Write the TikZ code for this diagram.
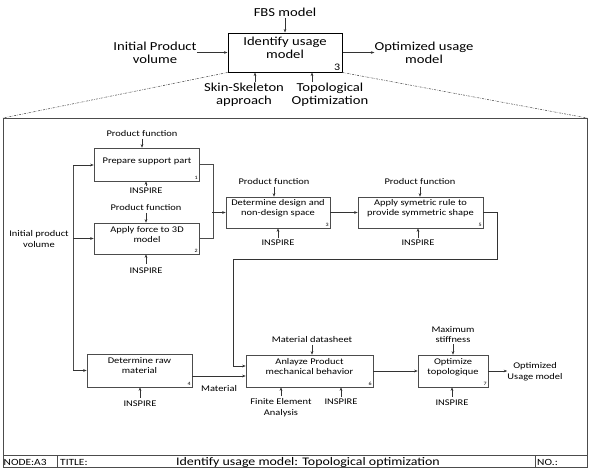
\documentclass[tikz,border=0pt]{standalone}
\usepackage{fontspec}
\setmainfont{Carlito}[FakeStretch=1.2]
\usetikzlibrary{calc,arrows.meta}
\begin{document}
\begin{tikzpicture}[x=1pt,y=-1pt,
  box/.style={draw=black!70, line width=0.6pt, inner sep=0pt},
  btxt/.style={font=\fontsize{8.7}{10}\selectfont, align=center, inner sep=0pt},
  lbl/.style={font=\fontsize{8.7}{10.5}\selectfont, align=center, inner sep=0pt},
  tlbl/.style={font=\fontsize{12.2}{12.8}\selectfont, align=center, inner sep=0pt},
  num/.style={font=\fontsize{5}{6}\selectfont, anchor=south east, inner sep=1.5pt},
  arr/.style={draw=black!80, line width=0.5pt, -{Stealth[length=3.5pt,width=2.6pt]}},
  ln/.style={draw=black!70, line width=0.6pt},
  dotln/.style={draw=black!70, line width=0.55pt, dash pattern=on 2pt off 1.2pt on 0.5pt off 1.2pt}]
\useasboundingbox (0,0) rectangle (591,467);

% ---------- top level ----------
\node[draw=black, line width=1pt, minimum width=114pt, minimum height=39pt, inner sep=0pt] (top) at (285,52.5) {};
\node[tlbl] (toptxt) at (285,48) {Identify usage\\model};
\node[font=\fontsize{10}{11}\selectfont, anchor=south east, inner sep=2pt] (topnum) at (top.south east) {3};
\node[tlbl] (fbs) at (285,12) {FBS model};
\draw[arr, shorten <=2pt] (fbs.south) -- (fbs.south |- top.north);
\node[tlbl] (ipv) at (155,53) {Initial Product\\volume};
\draw[arr] (ipv.east |- top.west) -- (top.west);
\node[tlbl] (ouv) at (424,53) {Optimized usage\\model};
\draw[arr] (top.east) -- (ouv.west |- top.east);
\node[tlbl] (ss) at (244,94.5) {Skin-Skeleton\\approach};
\coordinate (ssA) at (255,82);
\draw[arr] (ssA) -- (ssA |- top.south);
\node[tlbl] (topo) at (330,94.5) {Topological\\Optimization};
\coordinate (toA) at (312,82);
\draw[arr] (toA) -- (toA |- top.south);

% ---------- frame ----------
\coordinate (frTL) at (3,118);
\coordinate (frTR) at (587,118);
\coordinate (frBR) at (587,467);
\draw[dotln] (top.south west) -- (frTL);
\draw[dotln] (top.south east) -- (frTR);
\draw[draw=black!70, line width=0.7pt] (frTL) rectangle (frBR);

% ---------- inner boxes ----------
\node[box, minimum width=105pt, minimum height=33pt] (b1) at (146.5,164.5) {};
\node[btxt] (t1) at (147,161) {Prepare support part};
\node[num] (n1) at (b1.south east) {1};

\node[box, minimum width=105pt, minimum height=31pt] (b2) at (146.5,238.5) {};
\node[btxt] (t2) at (147,235) {Apply force to 3D\\model};
\node[num] (n2) at (b2.south east) {2};

\node[box, minimum width=104pt, minimum height=31pt] (b3) at (278,212.5) {};
\node[btxt] (t3) at (278,208) {Determine design and\\non-design space};
\node[num] (n3) at (b3.south east) {3};

\node[box, minimum width=125pt, minimum height=31pt] (b5) at (420.5,212.5) {};
\node[btxt] (t5) at (420.5,208) {Apply symetric rule to\\provide symmetric shape};
\node[num] (n5) at (b5.south east) {5};

\node[box, minimum width=105pt, minimum height=33pt] (b4) at (139.5,370.5) {};
\node[btxt] (t4) at (139.5,366) {Determine raw\\material};
\node[num] (n4) at (b4.south east) {4};

\node[box, minimum width=127pt, minimum height=32pt] (b6) at (309.5,371) {};
\node[btxt] (t6) at (309.5,367) {Anlayze Product\\mechanical behavior};
\node[num] (n6) at (b6.south east) {6};

\node[box, minimum width=70pt, minimum height=32pt] (b7) at (453,371) {};
\node[btxt] (t7) at (453,367) {Optimize\\topologique};
\node[num] (n7) at (b7.south east) {7};

% ---------- controls and mechanisms ----------
\node[lbl] (pf1) at (142,134) {Product function};
\draw[arr, shorten <=1.5pt] (pf1.south) -- (pf1.south |- b1.north);
\node[lbl] (in1) at (146,191) {INSPIRE};
\draw[arr, shorten <=1.5pt] (in1.north) -- (in1.north |- b1.south);

\node[lbl] (pf2) at (146,208) {Product function};
\draw[arr, shorten <=1.5pt] (pf2.south) -- (pf2.south |- b2.north);
\node[lbl] (in2) at (146,271) {INSPIRE};
\draw[arr, shorten <=4pt] (in2.north) -- (in2.north |- b2.south);

\node[lbl] (pf3) at (274,182) {Product function};
\draw[arr, shorten <=1.5pt] (pf3.south) -- (pf3.south |- b3.north);
\node[lbl] (in3) at (278,243) {INSPIRE};
\draw[arr, shorten <=1.5pt] (in3.north) -- (in3.north |- b3.south);

\node[lbl] (pf5) at (420,182) {Product function};
\draw[arr, shorten <=1.5pt] (pf5.south) -- (pf5.south |- b5.north);
\node[lbl] (in5) at (418,243) {INSPIRE};
\draw[arr, shorten <=1.5pt] (in5.north) -- (in5.north |- b5.south);

\node[lbl] (in4) at (140,404) {INSPIRE};
\draw[arr, shorten <=3pt] (in4.north) -- (in4.north |- b4.south);

\node[lbl] (md) at (312,340) {Material datasheet};
\draw[arr, shorten <=1.5pt] (md.south) -- (md.south |- b6.north);
\node[lbl] (fea) at (281,407.5) {Finite Element\\Analysis};
\draw[arr, shorten <=2pt] (fea.north) -- (fea.north |- b6.south);
\node[lbl] (in6) at (341,402) {INSPIRE};
\draw[arr, shorten <=2pt] (in6.north) -- (in6.north |- b6.south);

\node[lbl] (ms) at (453,334.5) {Maximum\\stiffness};
\draw[arr, shorten <=1.5pt] (ms.south) -- (ms.south |- b7.north);
\node[lbl] (in7) at (452,403) {INSPIRE};
\draw[arr, shorten <=3pt] (in7.north) -- (in7.north |- b7.south);

% ---------- flows ----------
\node[lbl] (ipv2) at (39,239) {Initial product\\volume};
\coordinate (vt) at (73,165);
\coordinate (vb) at (73,370.5);
\draw[ln] (vt) -- (vb);
\draw[arr] (vt) -- (vt -| b1.west);
\draw[arr] (vt |- b2.west) -- (b2.west);
\draw[arr] (vb) -- (b4.west);

\coordinate (j) at (212,212.5);
\draw[ln] (b1.east) -| ($(b2.east)+(13.5,0)$) -- (b2.east);
\draw[arr] (j) -- (b3.west);
\draw[arr] (b3.east) -- (b5.west);

\coordinate (r5) at (497,259);
\coordinate (l5) at (233,259);
\draw[arr] (b5.east) -| (r5) -- (l5) |- ($(b6.west)+(0,-5)$);

\draw[arr] ($(b4.east)+(0,5.5)$) -- ($(b6.west)+(0,5)$);
\node[lbl] (mat) at (219,388) {Material};

\draw[arr] (b6.east) -- (b7.west);
\node[lbl] (out7) at (535,371.5) {Optimized\\Usage model};
\draw[arr] (b7.east) -- (out7.west |- b7.east);

% ---------- title bar ----------
\coordinate (tbL) at (3,455);
\coordinate (tbR) at (587,455);
\draw[ln] (tbL) -- (tbR);
\coordinate (s1) at (57,455);
\coordinate (s2) at (535,455);
\draw[ln] (s1) -- (s1 |- frBR);
\draw[ln] (s2) -- (s2 |- frBR);
\node[font=\fontsize{9.5}{11}\selectfont, anchor=west, inner sep=0pt] (nodeA) at (3.5,462) {NODE:A3};
\node[font=\fontsize{9.5}{11}\selectfont, anchor=west, inner sep=0pt] (titl) at (60,462) {TITLE:};
\node[font=\fontsize{11.6}{13}\selectfont, inner sep=0pt] (ttxt) at (308,462) {Identify usage model: Topological optimization};
\node[font=\fontsize{9.5}{11}\selectfont, anchor=west, inner sep=0pt] (no) at (537,462) {NO.:};
\end{tikzpicture}
\end{document}
